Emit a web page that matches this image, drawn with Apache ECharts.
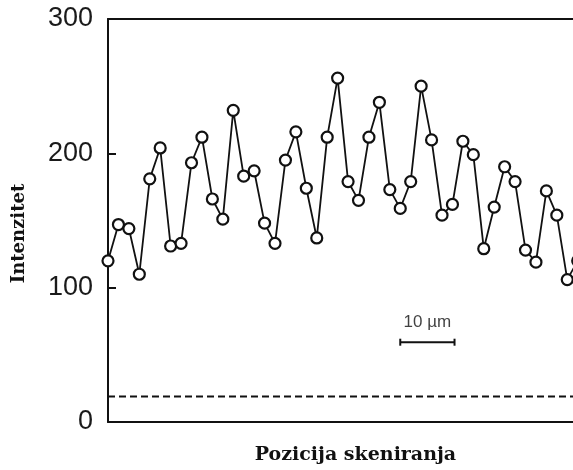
<!DOCTYPE html>
<html>
<head>
<meta charset="utf-8">
<script src="https://cdn.jsdelivr.net/npm/echarts@6/dist/echarts.min.js"></script>
<style>
  html, body { margin: 0; padding: 0; background: #fff; }
  #main { width: 573px; height: 470px; }
</style>
</head>
<body>
<div id="main"></div>
<script>
// intenzitet po poziciji skeniranja (ocitano sa slike)
var intensity = [120, 147, 144, 110, 181, 204, 131, 133, 193, 212,
  166, 151, 232, 183, 187, 148, 133, 195, 216, 174,
  137, 212, 256, 179, 165, 212, 238, 173, 159, 179,
  250, 210, 154, 162, 209, 199, 129, 160, 190, 179,
  128, 119, 172, 154, 106, 120];
var background = 19;        // isprekidana linija pozadine
var scaleBar = [28, 33.2];  // 10 um, u jedinicama pozicije
var scaleBarY = 59.4;
var yTicks = [0, 100, 200, 300];
var xMax = 44.55;           // slika je odsecena desno, zadnja tacka ispada preko ivice

var points = [];
for (var i = 0; i < intensity.length; i++) {
  points.push([i, intensity[i]]);
}

var chart = echarts.init(document.getElementById('main'));

var option = {
  animation: false,
  grid: {
    left: 108,
    top: 19,
    bottom: 47,
    right: 0
  },
  xAxis: [
    {
      type: 'value',
      min: 0,
      max: xMax,
      position: 'bottom',
      name: 'Pozicija skeniranja',
      nameLocation: 'middle',
      nameGap: 24,
      nameTextStyle: {
        fontFamily: 'DejaVu Serif',
        fontWeight: 'bold',
        fontSize: 19,
        color: '#111',
        padding: [0, 0, 0, 30]
      },
      axisLine: { lineStyle: { color: '#111', width: 2 } },
      axisTick: { show: false },
      axisLabel: { show: false },
      splitLine: { show: false }
    },
    {
      // gornji okvir
      type: 'value',
      min: 0,
      max: xMax,
      position: 'top',
      axisLine: { lineStyle: { color: '#111', width: 2 } },
      axisTick: { show: false },
      axisLabel: { show: false },
      splitLine: { show: false }
    }
  ],
  yAxis: {
    type: 'value',
    min: yTicks[0],
    max: yTicks[yTicks.length - 1],
    interval: 100,
    name: 'Intenzitet',
    nameLocation: 'middle',
    nameGap: 80,
    nameTextStyle: {
      fontFamily: 'DejaVu Serif',
      fontWeight: 'bold',
      fontSize: 18,
      color: '#111',
      padding: [0, 26, 0, 0]
    },
    axisLine: { show: true, lineStyle: { color: '#111', width: 2 } },
    axisTick: { show: true, inside: true, length: 8, lineStyle: { color: '#111', width: 2 } },
    axisLabel: {
      margin: 15,
      fontFamily: 'Liberation Sans',
      fontSize: 27,
      color: '#1a1a1a'
    },
    splitLine: { show: false }
  },
  series: [
    {
      name: 'pozadina',
      type: 'line',
      data: [[0, background], [xMax, background]],
      symbol: 'none',
      lineStyle: { color: '#111', width: 2, type: [7, 4] },
      silent: true
    },
    {
      name: 'skala',
      type: 'line',
      data: [[scaleBar[0], scaleBarY], [scaleBar[1], scaleBarY]],
      symbol: 'rect',
      symbolSize: [2, 7],
      itemStyle: { color: '#111' },
      lineStyle: { color: '#111', width: 2 },
      silent: true
    },
    {
      name: 'oznaka',
      type: 'scatter',
      data: [[(scaleBar[0] + scaleBar[1]) / 2, scaleBarY]],
      symbolSize: 0,
      label: {
        show: true,
        position: 'top',
        distance: 11,
        formatter: '10 µm',
        fontFamily: 'Liberation Sans',
        fontSize: 17,
        color: '#111'
      },
      silent: true
    },
    {
      name: 'intenzitet',
      type: 'line',
      data: points,
      clip: false,
      symbol: 'circle',
      symbolSize: 11,
      showAllSymbol: true,
      itemStyle: { color: '#fff', borderColor: '#111', borderWidth: 2.2 },
      lineStyle: { color: '#111', width: 1.8 },
      z: 5
    }
  ]
};

chart.setOption(option);
</script>
</body>
</html>
